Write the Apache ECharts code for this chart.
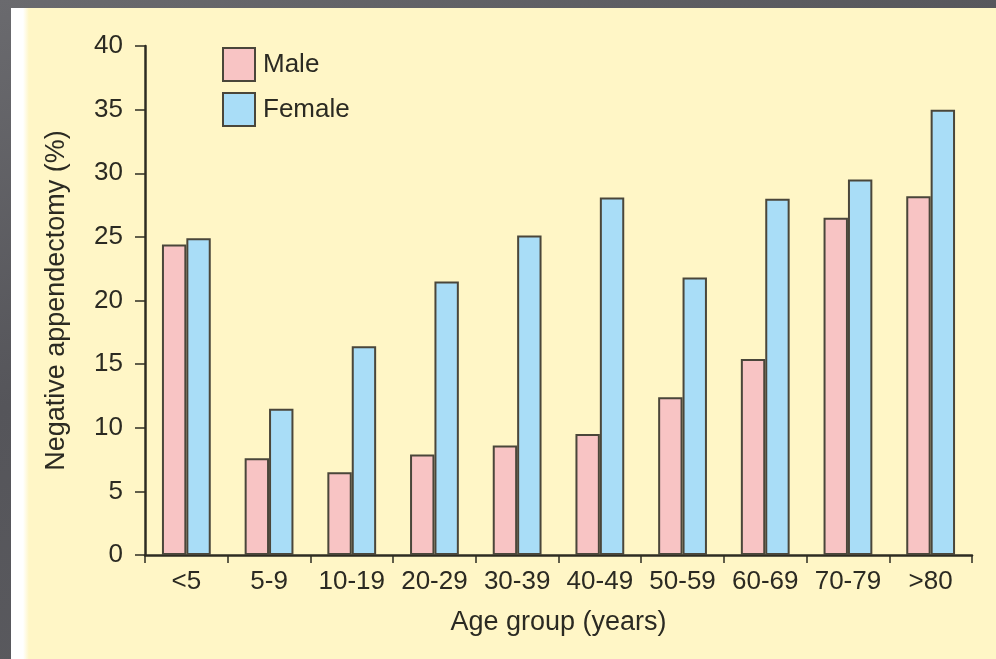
<!DOCTYPE html>
<html>
<head>
<meta charset="utf-8">
<script src="https://cdn.jsdelivr.net/npm/echarts@6/dist/echarts.min.js"></script>
<style>
html, body { margin: 0; padding: 0; width: 996px; height: 659px; overflow: hidden; }
body { background: linear-gradient(160deg, #6a6a6e 0%, #55555a 40%, #5e5e62 100%); }
#panel {
    position: absolute; left: 11px; top: 8px; right: 0; bottom: 0;
    background: linear-gradient(to right, #ffffff 0px, #ffffff 12px, #fff6c6 18px, #fff6c6 100%);
}
#chart { position: absolute; left: 0; top: 0; width: 996px; height: 659px; }
</style>
</head>
<body>
<div id="panel"></div>
<div id="chart"></div>
<script>
// age groups and negative appendectomy rates (%)
var ageGroups = ['<5', '5-9', '10-19', '20-29', '30-39', '40-49', '50-59', '60-69', '70-79', '>80'];
var maleRate = [24.4, 7.6, 6.5, 7.9, 8.6, 9.5, 12.4, 15.4, 26.5, 28.2];
var femaleRate = [24.9, 11.5, 16.4, 21.5, 25.1, 28.1, 21.8, 28.0, 29.5, 35.0];

var textColor = '#2b2a22';
var lineColor = '#2e2c22';
var font = 'Liberation Sans, Arial, sans-serif';

var myChart = echarts.init(document.getElementById('chart'));
myChart.setOption({
    backgroundColor: 'transparent',
    animation: false,
    textStyle: { fontFamily: font },
    legend: {
        orient: 'vertical',
        left: 217,
        top: 42,
        itemWidth: 32,
        itemHeight: 33,
        itemGap: 10,
        icon: 'rect',
        textStyle: { fontSize: 26, color: textColor, fontFamily: font, padding: [0, 0, 0, 3] },
        itemStyle: { borderColor: '#4a463a', borderWidth: 2 },
        data: ['Male', 'Female']
    },
    grid: { left: 145, right: 24, top: 46, bottom: 104 },
    xAxis: {
        type: 'category',
        data: ageGroups,
        name: 'Age group (years)',
        nameLocation: 'middle',
        nameGap: 54,
        nameTextStyle: { fontSize: 27, color: textColor, fontFamily: font },
        axisLine: { lineStyle: { color: lineColor, width: 2.5 } },
        axisTick: { show: true, alignWithLabel: false, length: 8, lineStyle: { color: lineColor, width: 1.5 } },
        axisLabel: { fontSize: 26, color: textColor, margin: 14, interval: 0, fontFamily: font }
    },
    yAxis: {
        type: 'value',
        min: 0,
        max: 40,
        interval: 5,
        name: 'Negative appendectomy (%)',
        nameLocation: 'middle',
        nameRotate: 90,
        nameGap: 75,
        nameTextStyle: { fontSize: 27, color: textColor, fontFamily: font },
        axisLine: { show: true, lineStyle: { color: lineColor, width: 2.5 } },
        axisTick: { show: true, length: 10, lineStyle: { color: lineColor, width: 1.5 } },
        axisLabel: { fontSize: 26, color: textColor, margin: 22, fontFamily: font },
        splitLine: { show: false }
    },
    series: [{
        name: 'Male',
        type: 'bar',
        data: maleRate,
        barGap: '0%',
        barCategoryGap: '41%',
        itemStyle: { color: '#f8c4c4', borderColor: '#4a463a', borderWidth: 2 }
    }, {
        name: 'Female',
        type: 'bar',
        data: femaleRate,
        barGap: '0%',
        barCategoryGap: '41%',
        itemStyle: { color: '#a9ddf7', borderColor: '#4a463a', borderWidth: 2 }
    }]
});
</script>
</body>
</html>
